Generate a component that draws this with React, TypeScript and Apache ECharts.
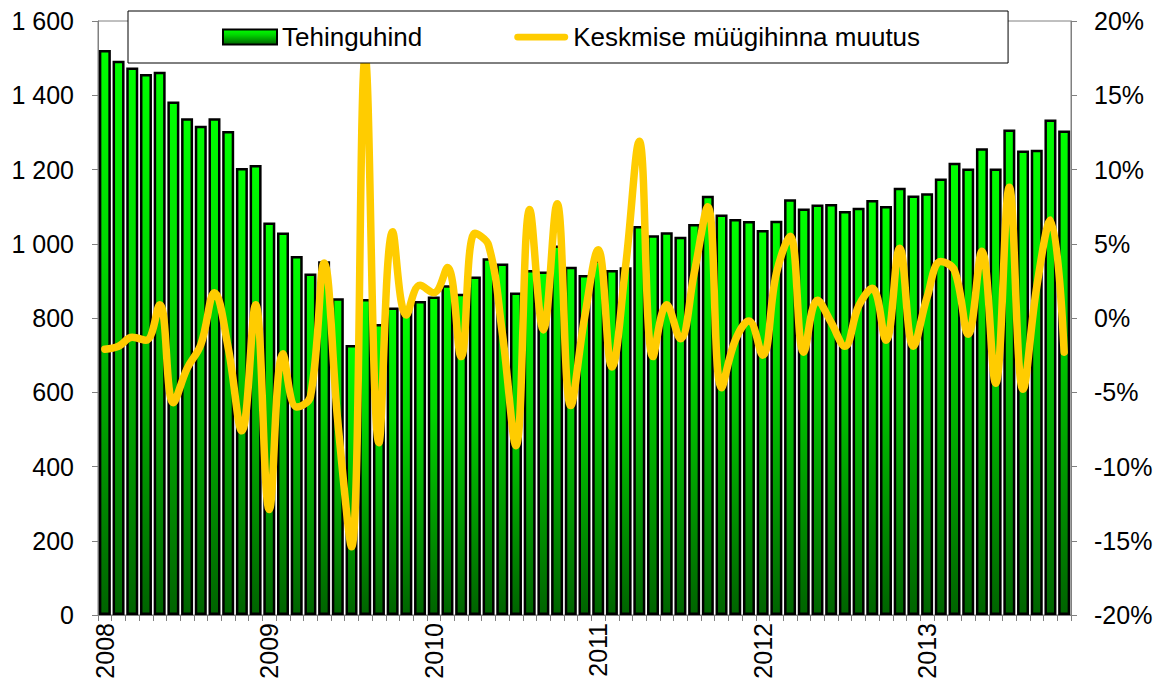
import React, { useEffect, useRef } from "react";
import * as echarts from "echarts";

const years = ["2008", "2009", "2010", "2011", "2012", "2013"];
const monthCodes = ["01", "02", "03", "04", "05", "06", "07", "08", "09", "10", "11", "12"];
const categories = years.flatMap((y) => monthCodes.map((m) => `${y}-${m}`)).slice(0, 71);

// Tehinguhind (EUR/m2), monthly Jan 2008 – Nov 2013
const price = [
  1522, 1493, 1475, 1457, 1463, 1383, 1338, 1318, 1338, 1304, 1204, 1212,
  1057, 1030, 967, 920, 953, 853, 727, 851, 784, 828, 830, 846,
  858, 888, 865, 912, 961, 947, 869, 929, 925, 995, 938, 916,
  955, 929, 937, 1048, 1023, 1031, 1019, 1053, 1129, 1079, 1067, 1061,
  1037, 1062, 1120, 1095, 1106, 1107, 1088, 1097, 1118, 1102, 1151, 1130,
  1136, 1176, 1218, 1203, 1257, 1203, 1308, 1251, 1253, 1335, 1305,
];

// Keskmise müügihinna muutus (%)
const change = [
  -2.1, -1.9, -1.3, -1.5, 0.9, -5.7, -3.4, -1.8, 1.7, -2.0, -7.6, 0.9,
  -12.9, -2.4, -6.0, -5.3, 3.7, -7.0, -15.4, 17.6, -8.4, 5.8, 0.2, 2.2,
  1.7, 3.4, -2.6, 5.7, 4.9, -1.0, -8.6, 7.3, -0.8, 7.7, -5.9, 0.0,
  4.6, -3.3, 3.5, 11.9, -2.6, 0.9, -1.4, 3.0, 7.5, -4.7, -1.5, -0.2,
  -2.5, 3.0, 5.5, -2.3, 1.2, -0.3, -1.9, 0.8, 2.0, -1.5, 4.7, -1.9,
  1.4, 3.8, 3.2, -1.1, 4.5, -4.4, 8.8, -4.8, 2.1, 6.6, -2.3,
];

const seriesNames = ["Tehinguhind", "Keskmise müügihinna muutus"];
const FONT = "'Liberation Sans', Arial, sans-serif";

function fmtThousands(v: number): string {
  if (v >= 1000) {
    return `${Math.floor(v / 1000)} ${String(v % 1000).padStart(3, "0")}`;
  }
  return String(v);
}

export default function App() {
  const ref = useRef<HTMLDivElement>(null);
  useEffect(() => {
    if (!ref.current) return;
    const chart = echarts.init(ref.current, undefined, { renderer: "svg" });
    const gray = "#808080";
    const option = {
      animation: false,
      grid: {
        left: 98,
        right: 92,
        top: 21,
        bottom: 69,
        show: true,
        borderColor: gray,
        borderWidth: 1,
        backgroundColor: "transparent",
      },
      legend: {
        left: 128,
        top: 11,
        padding: [13, 88, 13, 94],
        itemGap: 92,
        itemWidth: 54,
        itemHeight: 15,
        backgroundColor: "#ffffff",
        borderColor: "#000000",
        borderWidth: 1,
        textStyle: { fontSize: 26, fontFamily: FONT, color: "#000" },
        data: [
          { name: seriesNames[0], icon: "rect" },
          {
            name: seriesNames[1],
            icon: "path://M3.5,0 L52.5,0 A3.5,3.5 0 0 1 52.5,7 L3.5,7 A3.5,3.5 0 0 1 3.5,0 Z",
          },
        ],
      },
      xAxis: {
        type: "category",
        data: categories,
        boundaryGap: true,
        axisLine: { show: true, lineStyle: { color: gray, width: 1 } },
        axisTick: { show: true, interval: 0, length: 6, lineStyle: { color: gray } },
        axisLabel: {
          interval: 11,
          rotate: 90,
          formatter: (v: string) => v.slice(0, 4),
          fontSize: 25,
          fontFamily: FONT,
          color: "#000",
          margin: 8,
        },
        splitLine: { show: false },
      },
      yAxis: [
        {
          type: "value",
          position: "left",
          min: 0,
          max: 1600,
          interval: 200,
          splitLine: { show: false },
          axisLine: { show: true, lineStyle: { color: gray } },
          axisTick: { show: true, length: 6, lineStyle: { color: gray } },
          axisLabel: {
            formatter: (v: number) => fmtThousands(v),
            fontSize: 25,
            fontFamily: FONT,
            color: "#000",
            margin: 24,
          },
        },
        {
          type: "value",
          position: "right",
          min: -20,
          max: 20,
          interval: 5,
          splitLine: { show: false },
          axisLine: { show: true, lineStyle: { color: gray } },
          axisTick: { show: true, length: 6, lineStyle: { color: gray } },
          axisLabel: {
            formatter: (v: number) => `${v}%`,
            fontSize: 25,
            fontFamily: FONT,
            color: "#000",
            margin: 23,
          },
        },
      ],
      series: [
        {
          name: seriesNames[0],
          type: "bar",
          data: price,
          barWidth: 12,
          itemStyle: {
            color: new echarts.graphic.LinearGradient(0, 0, 0, 1, [
              { offset: 0, color: "#00ff00" },
              { offset: 0.35, color: "#00d800" },
              { offset: 1, color: "#006400" },
            ]),
            borderColor: "#000000",
            borderWidth: 2.5,
          },
          z: 2,
        },
        {
          name: seriesNames[1],
          type: "line",
          yAxisIndex: 1,
          data: change,
          smooth: 0.4,
          symbol: "none",
          lineStyle: { color: "#ffcc00", width: 7.5, cap: "round", join: "round" },
          itemStyle: { color: "#ffcc00" },
          z: 3,
        },
      ],
    };
    chart.setOption(option as any);
    return () => chart.dispose();
  }, []);
  return (
    <div
      ref={ref}
      style={{ position: "absolute", left: 0, top: 0, width: 1163, height: 684 }}
    />
  );
}
